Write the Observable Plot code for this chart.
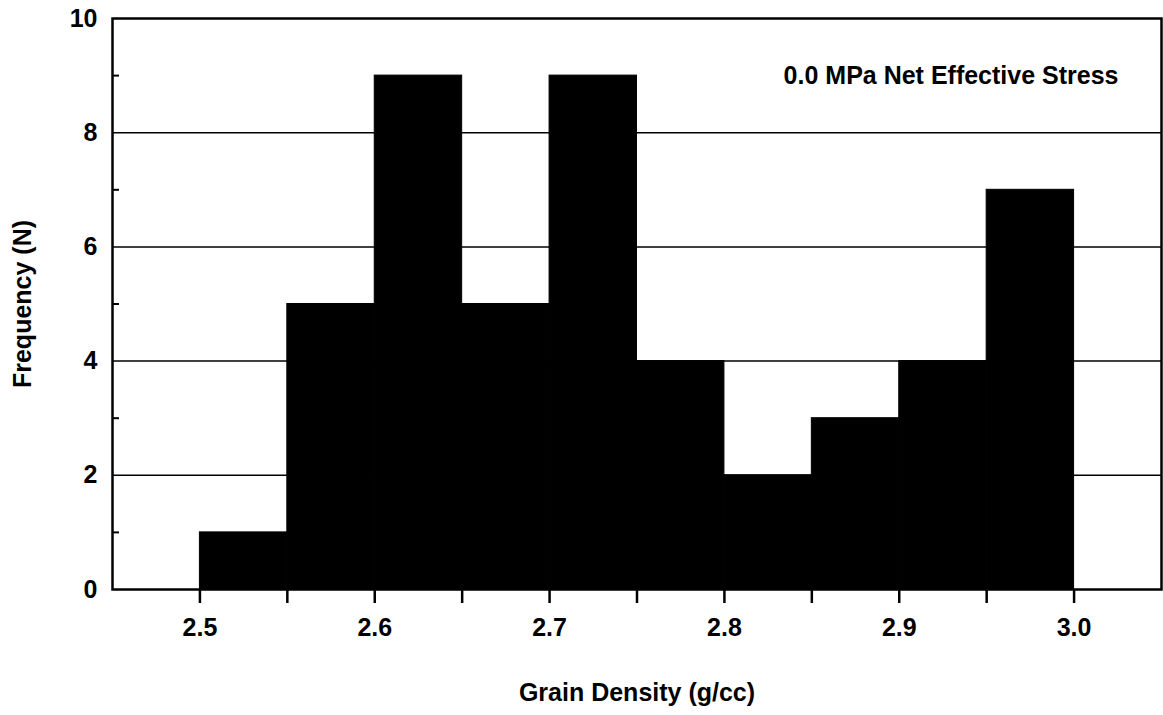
<!DOCTYPE html>
<html>
<head>
<meta charset="utf-8">
<script src="https://cdn.jsdelivr.net/npm/d3@7"></script>
<script src="https://cdn.jsdelivr.net/npm/@observablehq/plot@0.6"></script>
<style>
  html, body { margin: 0; padding: 0; background: #fff; }
</style>
</head>
<body>
<div id="chart"></div>
<script>
// Histogram bins (grain density, g/cc) and frequencies
const binStart = [2.50, 2.55, 2.60, 2.65, 2.70, 2.75, 2.80, 2.85, 2.90, 2.95];
const binEnd   = [2.55, 2.60, 2.65, 2.70, 2.75, 2.80, 2.85, 2.90, 2.95, 3.00];
const counts   = [1, 5, 9, 5, 9, 4, 2, 3, 4, 7];

const xTickMarks  = [2.50, 2.55, 2.60, 2.65, 2.70, 2.75, 2.80, 2.85, 2.90, 2.95, 3.00];
const xTickLabels = [2.5, 2.6, 2.7, 2.8, 2.9, 3.0];
const yTickLabels = [0, 2, 4, 6, 8, 10];
const yMinorTicks = [1, 3, 5, 7, 9];
const yGrid       = [2, 4, 6, 8];

const xTitle = "Grain Density (g/cc)";
const yTitle = "Frequency (N)";
const note   = "0.0 MPa Net Effective Stress";

const bins = binStart.map((s, i) => ({x1: s, x2: binEnd[i], n: counts[i]}));

const chart = Plot.plot({
  width: 1163,
  height: 715,
  marginLeft: 112,
  marginRight: 2,
  marginTop: 18,
  marginBottom: 126,
  style: {fontFamily: "'Liberation Sans', Arial, Helvetica, sans-serif", fontSize: "25px", fontWeight: "bold", color: "#000", background: "#fff"},
  x: {domain: [2.45, 3.05]},
  y: {domain: [0, 10]},
  marks: [
    Plot.ruleY(yGrid, {stroke: "#000", strokeWidth: 1.5}),
    Plot.rectY(bins, {x1: "x1", x2: "x2", y: "n", fill: "#000", stroke: "#000", strokeWidth: 1}),
    Plot.frame({stroke: "#000", strokeWidth: 2.5}),
    Plot.axisX({ticks: xTickMarks, tickSize: 14, strokeWidth: 2.5, text: null, label: null}),
    Plot.axisX({ticks: xTickLabels, tickSize: 0, tickPadding: 29, tickFormat: d3.format(".1f"), label: null}),
    Plot.axisY({ticks: yTickLabels, tickSize: 0, tickPadding: 15, label: null}),
    Plot.axisY({ticks: yMinorTicks, tickSize: -7, strokeWidth: 2, text: null, label: null}),
    Plot.text([xTitle], {frameAnchor: "bottom", textAnchor: "middle", lineAnchor: "middle", dy: 103, text: d => d}),
    Plot.text([yTitle], {frameAnchor: "left", textAnchor: "middle", lineAnchor: "middle", dx: -90, rotate: -90, text: d => d}),
    Plot.text([note], {frameAnchor: "top-right", textAnchor: "end", lineAnchor: "middle", dx: -43, dy: 57, text: d => d})
  ]
});
document.getElementById("chart").appendChild(chart);
</script>
</body>
</html>
